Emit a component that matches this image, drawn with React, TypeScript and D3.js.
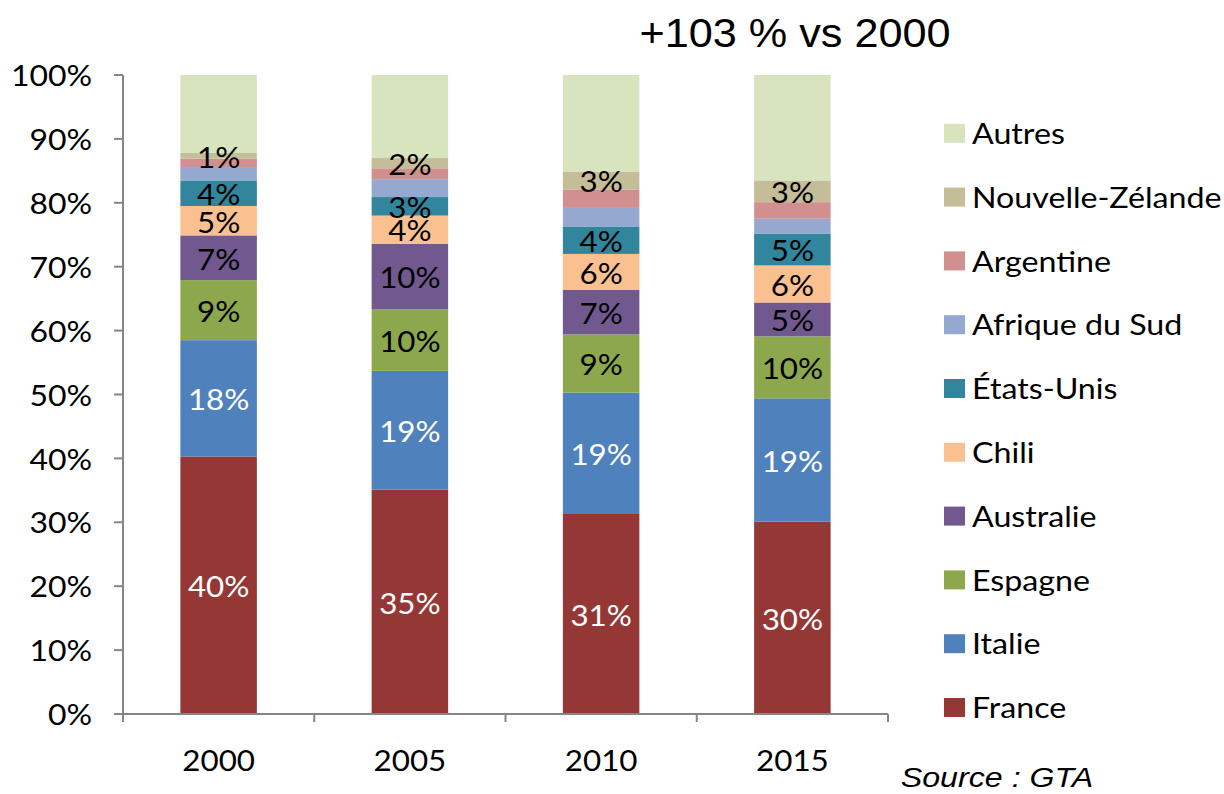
import React from "react";
import * as d3 from "d3";

const years = ["2000", "2005", "2010", "2015"];
const seriesNames = ["France", "Italie", "Espagne", "Australie", "Chili", "États-Unis", "Afrique du Sud", "Argentine", "Nouvelle-Zélande", "Autres"];
const seriesColors = ["#953735", "#4F81BD", "#8DA84C", "#71588F", "#FAC090", "#31859C", "#95A9D0", "#D28F8F", "#C4BD97", "#D7E4BD"];
const labelColors = ["#fff", "#fff", "#000", "#000", "#000", "#000", null, null, "#000", null];

const france = [40.3, 35.1, 31.3, 30.1];
const italie = [18.2, 18.6, 19.0, 19.3];
const espagne = [9.4, 9.6, 9.1, 9.7];
const australie = [7.0, 10.3, 7.0, 5.3];
const chili = [4.6, 4.4, 5.6, 5.8];
const etatsUnis = [4.0, 2.9, 4.3, 5.0];
const afriqueDuSud = [2.1, 2.8, 2.9, 2.3];
const argentine = [1.3, 1.7, 2.9, 2.6];
const nouvelleZelande = [0.9, 1.6, 2.8, 3.4];
const autres = [12.2, 13.0, 15.1, 16.5];

const yTicks = [0, 10, 20, 30, 40, 50, 60, 70, 80, 90, 100];
const title = "+103 % vs 2000";
const source = "Source : GTA";

const allSeries = [france, italie, espagne, australie, chili, etatsUnis, afriqueDuSud, argentine, nouvelleZelande, autres];

const FONT = "Lato, 'Noto Sans', sans-serif";
const SX = 1.1;

function SText({ x, y, anchor = "start", size, fill = "#000", children, sx = SX, family = FONT, style }: any) {
  return (
    <g transform={`translate(${x},${y}) scale(${sx},1)`}>
      <text textAnchor={anchor} fontSize={size} fill={fill} fontFamily={family} dominantBaseline="central" style={style}>
        {children}
      </text>
    </g>
  );
}

export default function App() {
  const W = 1224, H = 794;
  const left = 123, right = 888, top = 75, bottom = 714;
  const x = d3.scaleBand().domain(years).range([left, right]).paddingInner(0.6).paddingOuter(0.3);
  const xb = d3.scaleBand().domain(years).range([left, right]);
  const y = d3.scaleLinear().domain([0, 100]).range([bottom, top]);

  const rows = years.map((yr, i) => {
    const r: any = { year: yr };
    seriesNames.forEach((s, k) => (r[s] = allSeries[k][i]));
    return r;
  });
  const stacked = d3.stack().keys(seriesNames)(rows);
  const axisColor = "#868686";
  const legendStep = 63.8;

  return (
    <svg width={W} height={H} style={{ position: "absolute", left: 0, top: 0, background: "#fff" }}>
      <rect width={W} height={H} fill="#fff" />
      {stacked.map((layer, k) => (
        <g key={k}>
          {layer.map((d, i) => (
            <rect key={i} x={x(years[i])} width={x.bandwidth()} y={y(d[1])} height={y(d[0]) - y(d[1])} fill={seriesColors[k]} />
          ))}
        </g>
      ))}
      {stacked.map((layer, k) =>
        labelColors[k]
          ? layer.map((d, i) => (
              <SText key={`${k}-${i}`} x={x(years[i])! + x.bandwidth() / 2} y={(y(d[0]) + y(d[1])) / 2 + 1} anchor="middle" size={28} sx={1.12} fill={labelColors[k]!}>
                {`${Math.round(d[1] - d[0])}%`}
              </SText>
            ))
          : null
      )}
      {/* y axis */}
      <line x1={left} x2={left} y1={top} y2={bottom + 8} stroke={axisColor} strokeWidth={2} />
      {yTicks.map((t) => (
        <g key={t}>
          <line x1={left - 9} x2={left} y1={y(t)} y2={y(t)} stroke={axisColor} strokeWidth={2} />
          <SText x={92} y={y(t)} anchor="end" size={28} sx={1.14}>{`${t}%`}</SText>
        </g>
      ))}
      {/* x axis */}
      <line x1={left - 8} x2={right} y1={bottom} y2={bottom} stroke={axisColor} strokeWidth={2} />
      {years.map((yr) => (
        <line key={yr} x1={xb(yr)!} x2={xb(yr)!} y1={bottom} y2={bottom + 8} stroke={axisColor} strokeWidth={2} />
      ))}
      <line x1={right} x2={right} y1={bottom} y2={bottom + 8} stroke={axisColor} strokeWidth={2} />
      {years.map((yr) => (
        <SText key={yr} x={x(yr)! + x.bandwidth() / 2} y={760} anchor="middle" size={28} sx={1.12}>{yr}</SText>
      ))}
      {/* legend */}
      {seriesNames.map((s, k) => {
        const ly = 707 - k * legendStep;
        return (
          <g key={s}>
            <rect x={944} y={ly - 9} width={21} height={19} fill={seriesColors[k]} />
            <SText x={972} y={ly} size={28} sx={1.15}>{s}</SText>
          </g>
        );
      })}
      <SText x={795} y={33} anchor="middle" size={40} family="'Liberation Sans', Arial, sans-serif" sx={1.08}>{title}</SText>
      <SText x={997} y={777} anchor="middle" size={28} family="'Liberation Sans', Arial, sans-serif" sx={1.15} style={{ fontStyle: "italic" }}>{source}</SText>
    </svg>
  );
}
